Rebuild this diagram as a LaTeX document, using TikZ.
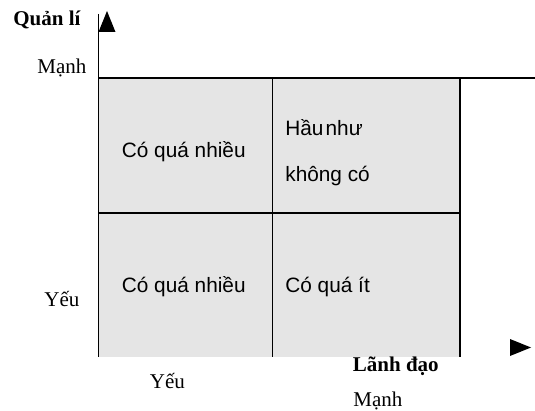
\documentclass[tikz,border=0pt]{standalone}
\usepackage{fontspec}
\setmainfont{Liberation Serif}
\newfontfamily\cellfont{Liberation Sans}
\begin{document}
\begin{tikzpicture}[x=0.5pt,y=-0.5pt,
  axislabel/.style={font=\fontsize{10.5}{12}\selectfont, inner sep=0pt, anchor=base west},
  axistitle/.style={font=\fontsize{10.5}{12}\selectfont\bfseries, inner sep=0pt, anchor=base west},
  celltext/.style={font=\cellfont\fontsize{10.4}{12}\selectfont, inner sep=0pt, anchor=base west},
  gridline/.style={line width=0.65pt, black},
  tip/.style={fill=black, draw=none}]
  \useasboundingbox (0,0) rectangle (535,411);

  % grid corners
  \coordinate (tl) at (98.5,78);
  \coordinate (tm) at (272.7,78);
  \coordinate (tr) at (460,78);
  \coordinate (ml) at (98.5,213);
  \coordinate (mr) at (460,213);
  \coordinate (bl) at (98.5,357);
  \coordinate (bm) at (272.7,357);
  \coordinate (br) at (460,357);
  \coordinate (axtop) at (98.5,14);
  \coordinate (lineend) at (535,78);

  % shaded quadrants
  \fill[gray!20] (tl) rectangle (br);

  % axes and dividers
  \draw[gridline] (axtop) -- (bl);
  \draw[gridline] (tl) -- (lineend);
  \draw[gridline] (tm) -- (bm);
  \draw[gridline] (tr) -- (br);
  \draw[gridline] (ml) -- (mr);

  % arrow heads
  \fill[tip] (107,11) -- (115.5,32) -- (98.5,32) -- cycle;
  \fill[tip] (510,339) -- (531,347.5) -- (510,356) -- cycle;

  % axis labels
  \node[axistitle] (ql) at (13,26) {Quản lí};
  \node[axislabel] (vmanh) at (37,74) {Mạnh};
  \node[axislabel] (vyeu) at (44,306.5) {Yếu};
  \node[axistitle] (ld) at (352.5,371.5) {Lãnh đạo};
  \node[axislabel] (hyeu) at (149.5,388) {Yếu};
  \node[axislabel] (hmanh) at (353,406.5) {Mạnh};

  % quadrant texts
  \node[celltext] (q1) at (121.5,158) {Có quá nhiều};
  \node[celltext] (q2a) at (285,135.5) {Hầu\hspace{0.1em}như};
  \node[celltext] (q2b) at (285,181.5) {không có};
  \node[celltext] (q3) at (121.5,292.3) {Có quá nhiều};
  \node[celltext] (q4) at (285,292.3) {Có quá ít};
\end{tikzpicture}
\end{document}
